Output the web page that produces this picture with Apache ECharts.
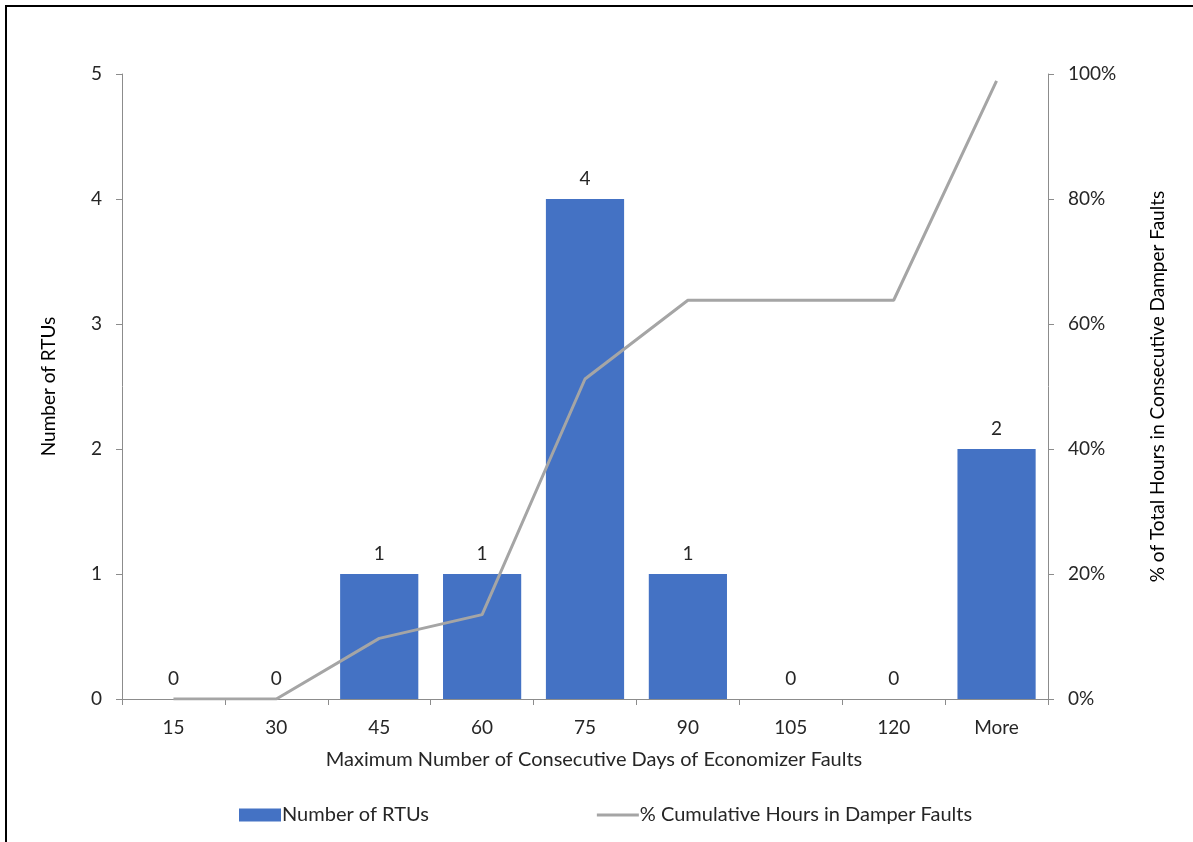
<!DOCTYPE html>
<html>
<head>
<meta charset="utf-8">
<script src="https://cdn.jsdelivr.net/npm/echarts@6/dist/echarts.min.js"></script>
<style>
  html, body { margin: 0; padding: 0; background: #fff; }
  #chart { width: 1193px; height: 842px; }
</style>
</head>
<body>
<div id="chart"></div>
<script>
// Histogram bins (max consecutive days of economizer faults)
const categories = ['15', '30', '45', '60', '75', '90', '105', '120', 'More'];
// RTU counts per bin
const rtuCounts = [0, 0, 1, 1, 4, 1, 0, 0, 2];
// Cumulative share of hours in damper faults, percent
const cumulativePct = [0, 0, 9.7, 13.5, 51.2, 63.8, 63.8, 63.8, 98.9];

const FONT = 'Lato, "Open Sans", sans-serif';
const FS = 19;
const FS_NAME = 20;
const TXT = '#262626';
const AXIS = '#8c8c8c';

// thin horizontal stroke used as the line-series legend key
const LINE_ICON = 'path://M0,0 L0,0 M0,5 L42,5 L42,8 L0,8 Z M0,13 L0,13';

const chart = echarts.init(document.getElementById('chart'), null, { renderer: 'canvas' });

chart.setOption({
  animation: false,
  backgroundColor: '#ffffff',
  textStyle: { fontFamily: FONT },
  graphic: [{
    type: 'rect',
    shape: { x: 6, y: 6, width: 1400, height: 1000 },
    style: { fill: 'none', stroke: '#000', lineWidth: 2 },
    silent: true
  }],
  grid: { left: 122, right: 145, top: 74, bottom: 143 },
  legend: {
    bottom: 12,
    left: 234,
    itemGap: 168,
    itemWidth: 42,
    itemHeight: 13,
    textStyle: { fontFamily: FONT, fontSize: FS_NAME, color: TXT, padding: [0, 0, 0, -4] },
    data: [
      { name: 'Number of RTUs', icon: 'rect' },
      { name: '% Cumulative Hours in Damper Faults', icon: LINE_ICON, itemStyle: { color: '#A5A5A5' } }
    ]
  },
  xAxis: {
    type: 'category',
    data: categories,
    name: 'Maximum Number of Consecutive Days of Economizer Faults',
    nameLocation: 'middle',
    nameGap: 51,
    nameTextStyle: { fontFamily: FONT, fontSize: 20, color: TXT, padding: [0, 0, 0, 18] },
    axisLine: { lineStyle: { color: AXIS, width: 1 } },
    axisTick: { show: true, alignWithLabel: false, length: 6, lineStyle: { color: AXIS } },
    axisLabel: { fontFamily: FONT, fontSize: FS, color: TXT, margin: 19 }
  },
  yAxis: [{
    type: 'value',
    min: 0, max: 5, interval: 1,
    name: 'Number of RTUs',
    nameLocation: 'middle',
    nameGap: 64,
    nameRotate: 90,
    nameTextStyle: { fontFamily: FONT, fontSize: FS, color: '#000' },
    axisLine: { show: true, lineStyle: { color: AXIS } },
    axisTick: { show: true, length: 6, lineStyle: { color: AXIS } },
    axisLabel: { fontFamily: FONT, fontSize: FS, color: TXT, margin: 20 },
    splitLine: { show: false }
  }, {
    type: 'value',
    min: 0, max: 100, interval: 20,
    name: '% of Total Hours in Consecutive Damper Faults',
    nameLocation: 'middle',
    nameGap: 100,
    nameRotate: 90,
    nameTextStyle: { fontFamily: FONT, fontSize: FS, color: '#000' },
    axisLine: { show: true, lineStyle: { color: AXIS } },
    axisTick: { show: true, length: 6, lineStyle: { color: AXIS } },
    axisLabel: { fontFamily: FONT, fontSize: FS, color: TXT, margin: 20, formatter: '{value}%' },
    splitLine: { show: false }
  }],
  series: [{
    name: 'Number of RTUs',
    type: 'bar',
    data: rtuCounts,
    yAxisIndex: 0,
    barCategoryGap: '24%',
    itemStyle: { color: '#4472C4' },
    label: {
      show: true,
      position: 'top',
      distance: 11,
      fontFamily: FONT,
      fontSize: FS,
      color: TXT
    }
  }, {
    name: '% Cumulative Hours in Damper Faults',
    type: 'line',
    data: cumulativePct,
    yAxisIndex: 1,
    symbol: 'none',
    lineStyle: { color: '#A5A5A5', width: 3 },
    itemStyle: { color: '#A5A5A5' },
    z: 3
  }]
});
</script>
</body>
</html>
